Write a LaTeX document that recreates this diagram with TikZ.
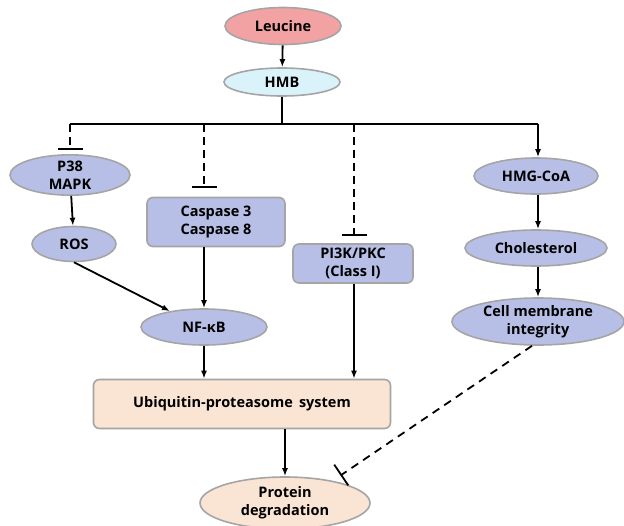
\documentclass[tikz,border=0pt]{standalone}
\usepackage{fontspec}
\setmainfont{Open Sans}
\usetikzlibrary{shapes.geometric,arrows.meta,calc}
\definecolor{lav}{RGB}{183,191,230}
\definecolor{peach}{RGB}{250,228,212}
\definecolor{pinkf}{RGB}{242,162,162}
\definecolor{cyanf}{RGB}{218,242,250}
\definecolor{bord}{RGB}{165,165,165}
\tikzset{
  base/.style={draw=bord, line width=1.6pt, font=\bfseries\fontsize{14.5}{18}\selectfont, align=center, inner sep=0pt, text=black},
  oval/.style={base, ellipse},
  rbox/.style={base, rectangle, rounded corners=6pt},
  ln/.style={line width=1.8pt},
  act/.style={ln, -{Latex[length=8pt,width=6pt]}},
  inh/.style={ln, dash pattern=on 8pt off 5pt, -{Bar[width=25pt,line width=1.8pt]}},
}
\begin{document}
\begin{tikzpicture}[x=1pt,y=-1pt]
\useasboundingbox (0,0) rectangle (624,525);
% nodes
\node[oval, fill=pinkf, minimum width=116pt, minimum height=37pt] (leu) at (283,26) {Leucine};
\node[oval, fill=cyanf, minimum width=116pt, minimum height=28pt] (hmb) at (282,82) {HMB};
\node[oval, fill=lav, minimum width=120pt, minimum height=37pt] (p38) at (70,175) {P38\\MAPK};
\node[oval, fill=lav, minimum width=84pt, minimum height=35pt] (ros) at (74,244) {ROS};
\node[rbox, fill=lav, minimum width=138pt, minimum height=49pt] (casp) at (216,222) {Caspase 3\\Caspase 8};
\node[rbox, fill=lav, minimum width=120pt, minimum height=39pt] (pi3k) at (353,263.5) {PI3K/PKC\\(Class I)};
\node[oval, fill=lav, minimum width=124pt, minimum height=36pt] (hmg) at (536,176) {HMG-CoA};
\node[oval, fill=lav, minimum width=142pt, minimum height=36pt] (chol) at (536,248) {Cholesterol};
\node[oval, fill=lav, minimum width=172pt, minimum height=47pt] (cm) at (538,321.5) {Cell membrane\\integrity};
\node[oval, fill=lav, minimum width=126pt, minimum height=36pt] (nfkb) at (204,327) {NF-κB};
\node[rbox, fill=peach, minimum width=297pt, minimum height=49pt] (ups) at (242,404) {Ubiquitin-proteasome\, system};
\node[oval, fill=peach, minimum width=170pt, minimum height=52pt] (pd) at (285,503) {Protein\\degradation};
% branch coordinates
\coordinate (b1) at (70,124);
\coordinate (b2) at (204,124);
\coordinate (b3) at (354,124);
\coordinate (b4) at (538,124);
\coordinate (j) at (282,124);
\coordinate (pdbar) at (340.5,475.5);
% connectors
\draw[act] (leu) -- (hmb);
\draw[ln] (hmb) -- (j);
\draw[ln] (b1) -- (b4);
\draw[inh, shorten >=4pt] (b1) -- (p38);
\draw[inh, shorten >=9pt] (b2) -- (b2 |- casp.north);
\draw[inh, shorten >=7pt] (b3) -- (b3 |- pi3k.north);
\draw[act] (b4) -- (b4 |- hmg.north);
\draw[act] (hmg.south -| b4) -- (b4 |- chol.north);
\draw[act] (chol.south -| b4) -- (b4 |- cm.north);
\draw[act] (p38) -- (ros);
\draw[act] (ros.south) -- (nfkb.155);
\draw[act] (casp.south -| b2) -- (b2 |- nfkb.north);
\draw[act] (nfkb) -- (nfkb |- ups.north);
\draw[act] (pi3k.south -| b3) -- (b3 |- ups.north);
\draw[act] (ups.south -| pd) -- (pd);
\draw[inh, dash pattern=on 8pt off 6pt] ($(cm.south)+(-6,0)$) -- (pdbar);
\end{tikzpicture}
\end{document}
